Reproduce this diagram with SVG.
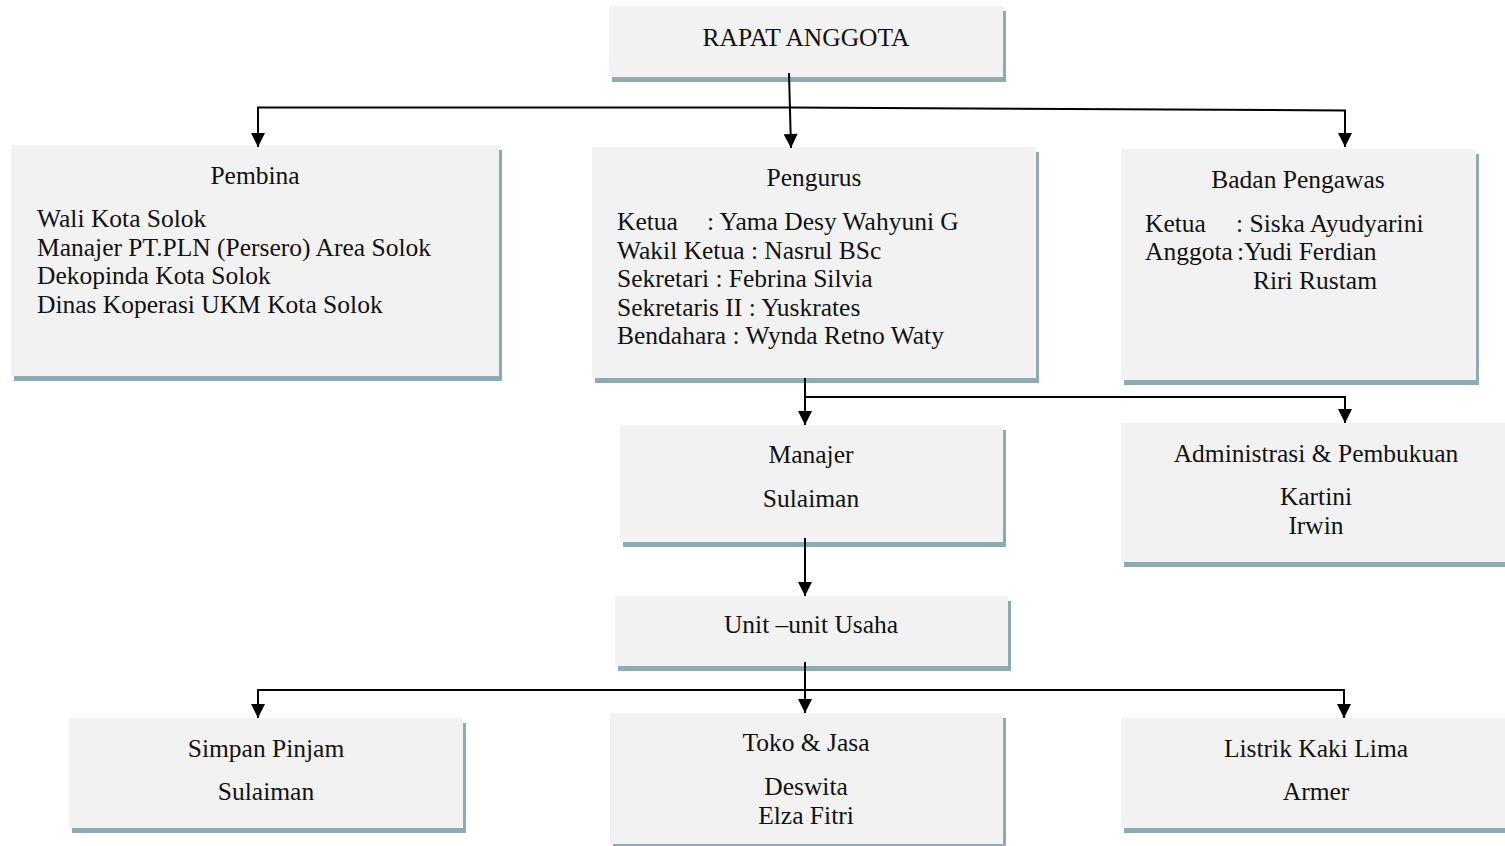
<svg xmlns="http://www.w3.org/2000/svg" width="1505" height="846" viewBox="0 0 1505 846">
<defs>
<style>
.box{fill:#F2F2F2;}
.sh{fill:#8EAAB2;}
text{font-family:"Liberation Serif","Times New Roman",serif;font-size:25.5px;fill:#111;}
.c{text-anchor:middle;}
.ln{fill:none;stroke:#000;stroke-width:2;}
</style>
<marker id="ah" viewBox="0 0 14 14" refX="14" refY="7" markerWidth="15" markerHeight="14" markerUnits="userSpaceOnUse" orient="auto">
<path d="M0,0 L14,7 L0,14 z" fill="#000"/>
</marker>
</defs>
<rect width="1505" height="846" fill="#fff"/>

<g id="rapat">
<rect class="sh" x="612" y="11" width="394" height="71"/>
<rect class="box" x="609" y="6" width="394" height="71"/>
<text class="c" x="806" y="46">RAPAT ANGGOTA</text>
</g>

<g id="pembina">
<rect class="sh" x="14" y="150" width="488" height="231"/>
<rect class="box" x="11" y="145" width="488" height="231"/>
<text class="c" x="255" y="184">Pembina</text>
<text x="37" y="227">Wali Kota Solok</text>
<text x="37" y="255.5">Manajer PT.PLN (Persero) Area Solok</text>
<text x="37" y="284">Dekopinda Kota Solok</text>
<text x="37" y="312.5">Dinas Koperasi UKM Kota Solok</text>
</g>

<g id="pengurus">
<rect class="sh" x="595" y="152" width="444" height="231"/>
<rect class="box" x="592" y="147" width="444" height="231"/>
<text class="c" x="814" y="186">Pengurus</text>
<text x="617" y="230">Ketua<tspan x="707">: Yama Desy Wahyuni G</tspan></text>
<text x="617" y="258.5">Wakil Ketua : Nasrul BSc</text>
<text x="617" y="287">Sekretari : Febrina Silvia</text>
<text x="617" y="315.5">Sekretaris II : Yuskrates</text>
<text x="617" y="344">Bendahara : Wynda Retno Waty</text>
</g>

<g id="pengawas">
<rect class="sh" x="1124" y="154" width="355" height="231"/>
<rect class="box" x="1121" y="149" width="355" height="231"/>
<text class="c" x="1298" y="188">Badan Pengawas</text>
<text x="1145" y="232">Ketua<tspan x="1236">: Siska Ayudyarini</tspan></text>
<text x="1145" y="260">Anggota<tspan x="1237">:Yudi Ferdian</tspan></text>
<text x="1253" y="289">Riri Rustam</text>
</g>

<g id="manajer">
<rect class="sh" x="623" y="430" width="383" height="117"/>
<rect class="box" x="620" y="425" width="383" height="117"/>
<text class="c" x="811" y="463">Manajer</text>
<text class="c" x="811" y="506.5">Sulaiman</text>
</g>

<g id="admin">
<rect class="sh" x="1124" y="428" width="381" height="139"/>
<rect class="box" x="1121" y="423" width="384" height="139"/>
<text class="c" x="1316" y="461.5">Administrasi &amp; Pembukuan</text>
<text class="c" x="1316" y="505">Kartini</text>
<text class="c" x="1316" y="533.5">Irwin</text>
</g>

<g id="unit">
<rect class="sh" x="618" y="601" width="393" height="70"/>
<rect class="box" x="615" y="596" width="393" height="70"/>
<text class="c" x="811" y="633">Unit –unit Usaha</text>
</g>

<g id="simpan">
<rect class="sh" x="72" y="723" width="394" height="110"/>
<rect class="box" x="69" y="718" width="394" height="110"/>
<text class="c" x="266" y="756.5">Simpan Pinjam</text>
<text class="c" x="266" y="799.5">Sulaiman</text>
</g>

<g id="toko">
<rect class="sh" x="613" y="718" width="393" height="133"/>
<rect class="box" x="610" y="713" width="393" height="131"/>
<text class="c" x="806" y="751">Toko &amp; Jasa</text>
<text class="c" x="806" y="794.5">Deswita</text>
<text class="c" x="806" y="823.5">Elza Fitri</text>
</g>

<g id="listrik">
<rect class="sh" x="1124" y="723" width="381" height="110"/>
<rect class="box" x="1121" y="718" width="384" height="110"/>
<text class="c" x="1316" y="756.5">Listrik Kaki Lima</text>
<text class="c" x="1316" y="800">Armer</text>
</g>

<g id="connectors">
<path class="ln" d="M789,73 L791,148" marker-end="url(#ah)"/>
<path class="ln" d="M258,147 V107.5 H790 L1345,110.5 V147" />
<path class="ln" d="M258,108 V147" marker-end="url(#ah)"/>
<path class="ln" d="M1345,111 V147" marker-end="url(#ah)"/>
<path class="ln" d="M805,378 V425" marker-end="url(#ah)"/>
<path class="ln" d="M805,397 H1345 V423" marker-end="url(#ah)"/>
<path class="ln" d="M805,538 V596" marker-end="url(#ah)"/>
<path class="ln" d="M805,662 V713" marker-end="url(#ah)"/>
<path class="ln" d="M258,718 V690 H1344 V718"/>
<path class="ln" d="M258,691 V718" marker-end="url(#ah)"/>
<path class="ln" d="M1344,691 V718" marker-end="url(#ah)"/>
</g>
</svg>
